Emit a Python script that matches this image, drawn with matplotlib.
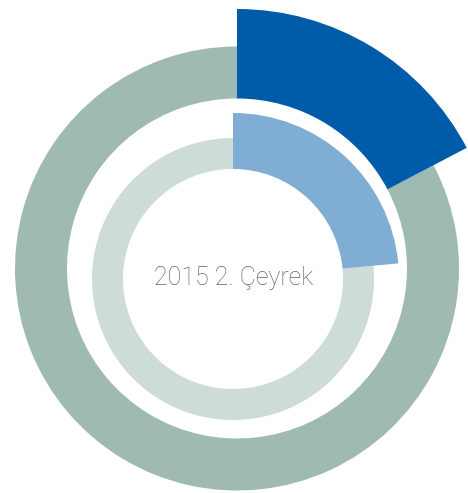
import matplotlib
matplotlib.use("Agg")
import matplotlib.pyplot as plt

# share of the quarter, percent
outer_share = 17.3
inner_share = 23.5
center_label = "2015 2. Çeyrek"

W, H = 468, 493

fig = plt.figure(figsize=(W / 100, H / 100), dpi=100)
ax = fig.add_axes([0, 0, 1, 1])

outer_c = (237, H - 268.5)
inner_c = (233, H - 279)

# outer ring: grey remainder + raised dark blue slice
ax.pie([outer_share, 100 - outer_share], colors=["none", "#9fb9b3"],
       center=outer_c, radius=222, startangle=90, counterclock=False,
       wedgeprops=dict(width=52, linewidth=0))
ax.pie([outer_share, 100 - outer_share], colors=["#005ca9", "none"],
       center=outer_c, radius=259.5, startangle=90, counterclock=False,
       wedgeprops=dict(width=89.5, linewidth=0))

# inner ring: light grey remainder + raised light blue slice
ax.pie([inner_share, 100 - inner_share], colors=["none", "#cddcd9"],
       center=inner_c, radius=141, startangle=90, counterclock=False,
       wedgeprops=dict(width=31, linewidth=0))
ax.pie([inner_share, 100 - inner_share], colors=["#80add4", "none"],
       center=inner_c, radius=166, startangle=90, counterclock=False,
       wedgeprops=dict(width=56, linewidth=0))

ax.text(inner_c[0] + 1, H - 285, center_label, ha="center", va="baseline",
        fontsize=18, color="#646464", family="Roboto", fontweight="light")

ax.set_xlim(0, W)
ax.set_ylim(0, H)
ax.set_aspect("equal")
ax.axis("off")

fig.savefig("out.png", dpi=100, facecolor="white")
